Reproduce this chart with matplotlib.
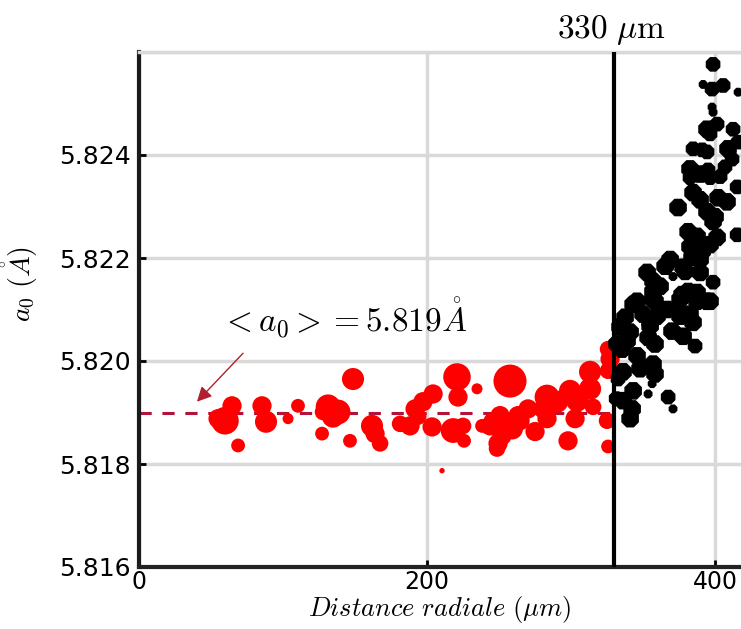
import matplotlib
matplotlib.use('Agg')
import matplotlib.pyplot as plt

plt.rcParams['mathtext.fontset'] = 'cm'
plt.rcParams['font.family'] = 'DejaVu Sans'

############################
# DATA                     #
############################
# red points : inside radius (um), lattice parameter (A), marker size
red_x = [64.6, 59.7, 54.9, 68.8, 85.4, 88.2, 110.4, 103.5, 131.3, 134.7,
         127.1, 127.8, 138.2, 148.6, 146.5, 161.8, 163.9, 167.4, 181.3, 188.2,
         191.7, 197.2, 204.2, 193.8, 203.5, 210.4, 220.8, 221.5, 234.7, 218.1,
         225.0, 225.7, 238.2, 257.6, 313.2, 325.7, 325.7, 283.3, 290.3, 299.3,
         304.2, 313.2, 315.3, 270.1, 264.6, 259.0, 250.7, 243.8, 249.3, 275.0,
         283.3, 302.8, 297.9, 325.0, 325.7, 245.8, 252.1, 263.2, 280.6, 327.1,
         248.6]
red_y = [5.81913, 5.81884, 5.81888, 5.81836, 5.81913, 5.81882, 5.81913, 5.81888, 5.81911, 5.81892,
         5.81859, 5.81901, 5.81901, 5.81965, 5.81845, 5.81874, 5.81859, 5.81840, 5.81878, 5.81874,
         5.81907, 5.81921, 5.81936, 5.81892, 5.81872, 5.81787, 5.81969, 5.81930, 5.81946, 5.81865,
         5.81874, 5.81845, 5.81874, 5.81961, 5.81979, 5.82023, 5.81981, 5.81930, 5.81921, 5.81942,
         5.81923, 5.81946, 5.81911, 5.81907, 5.81884, 5.81869, 5.81894, 5.81874, 5.81840, 5.81863,
         5.81888, 5.81888, 5.81845, 5.81884, 5.81834, 5.81882, 5.81855, 5.81894, 5.81907, 5.82004,
         5.81830]
red_size = [101, 207, 101, 52, 101, 133, 52, 33, 168, 133,
            52, 75, 168, 133, 52, 133, 101, 75, 75, 101,
            101, 101, 101, 75, 101, 8, 207, 101, 33, 168,
            75, 52, 52, 298, 133, 75, 75, 168, 133, 133,
            133, 133, 75, 101, 101, 133, 101, 101, 101, 101,
            101, 101, 101, 75, 52, 101, 101, 101, 101, 101,
            75]

# black points : outside radius
black_x = [398.6, 391.7, 397.9, 405.6, 416.0, 397.9, 398.6, 394.4, 401.4, 396.5,
           412.5, 416.0, 384.7, 391.0, 394.4, 409.0, 411.8, 406.9, 382.6, 389.6,
           395.1, 403.5, 382.6, 396.5, 415.3, 384.7, 389.6, 402.1, 408.3, 374.3,
           394.4, 400.0, 398.6, 415.3, 381.3, 387.5, 401.4, 396.5, 382.6, 391.0,
           389.6, 384.0, 368.8, 365.3, 377.8, 352.8, 356.9, 370.8, 379.2, 389.6,
           398.6, 381.3, 387.5, 377.1, 356.9, 345.8, 356.9, 394.4, 343.1, 358.3,
           366.7, 375.7, 387.5, 396.5, 337.5, 350.0, 359.7, 375.7, 382.6, 334.0,
           354.9, 370.1, 377.8, 386.1, 338.9, 353.5, 358.3, 335.4, 345.8, 356.9,
           347.9, 336.1, 358.3, 343.1, 356.3, 353.5, 367.4, 370.8, 336.1, 342.4,
           341.0, 331.9, 332.6, 331.3, 361.8, 341.0, 354.9, 375.7, 384.7]
black_y = [5.82576, 5.82537, 5.82528, 5.82535, 5.82522, 5.82493, 5.82483, 5.82450, 5.82460, 5.82441,
           5.82450, 5.82425, 5.82412, 5.82410, 5.82406, 5.82412, 5.82392, 5.82377, 5.82373, 5.82363,
           5.82371, 5.82358, 5.82356, 5.82356, 5.82338, 5.82327, 5.82313, 5.82317, 5.82309, 5.82298,
           5.82290, 5.82280, 5.82271, 5.82245, 5.82251, 5.82242, 5.82240, 5.82226, 5.82222, 5.82213,
           5.82197, 5.82201, 5.82197, 5.82184, 5.82182, 5.82172, 5.82155, 5.82164, 5.82174, 5.82172,
           5.82153, 5.82135, 5.82133, 5.82129, 5.82135, 5.82116, 5.82120, 5.82116, 5.82110, 5.82116,
           5.82100, 5.82120, 5.82116, 5.82116, 5.82085, 5.82091, 5.82087, 5.82087, 5.82091, 5.82066,
           5.82068, 5.82058, 5.82048, 5.82029, 5.82039, 5.82046, 5.82033, 5.82023, 5.82010, 5.81994,
           5.81985, 5.81979, 5.81975, 5.81942, 5.81956, 5.81936, 5.81930, 5.81907, 5.81923, 5.81907,
           5.81888, 5.82033, 5.81965, 5.81927, 5.82145, 5.82056, 5.82075, 5.82095, 5.82075]
black_size = [52, 19, 52, 52, 19, 19, 19, 75, 52, 52,
              52, 52, 52, 52, 52, 75, 52, 52, 75, 75,
              52, 52, 52, 52, 52, 75, 75, 75, 75, 75,
              75, 75, 75, 52, 75, 75, 75, 75, 75, 75,
              75, 75, 75, 75, 75, 75, 75, 19, 75, 75,
              52, 75, 75, 75, 75, 75, 75, 75, 75, 75,
              75, 75, 75, 75, 75, 75, 75, 75, 75, 75,
              75, 75, 75, 52, 75, 75, 75, 75, 75, 75,
              75, 75, 75, 75, 19, 19, 52, 19, 75, 75,
              75, 75, 52, 52, 75, 75, 75, 75, 75]

a0_mean = 5.819
r_limit = 330

x_ticks = [0, 200, 400]
y_ticks = [5.816, 5.818, 5.820, 5.822, 5.824, 5.826]
y_ticklabels = ['5.816', '5.818', '5.820', '5.822', '5.824', '']

############################
# PLOT                     #
############################
fig = plt.figure(figsize=(7.41, 6.29), dpi=100)
ax = fig.add_axes([139 / 741, 62 / 629, 602 / 741, 515 / 629])

ax.set_axisbelow(True)
ax.grid(True, color='#d9d9d9', lw=2.5)

ax.plot([0, r_limit], [a0_mean, a0_mean], ls=(0, (4, 3.5)), color='#b3123a', lw=2.2, zorder=2)
ax.scatter(red_x, red_y, s=[v * 1.9 for v in red_size], c='#ff0000', edgecolors='none', zorder=3)
ax.scatter(black_x, black_y, s=[v * 2.5 for v in black_size], c='k', marker='8',
           edgecolors='none', zorder=3)
ax.axvline(r_limit, color='k', lw=3, zorder=4)

ax.text(r_limit - 2, 5.8261, r'$330\ \mu\mathrm{m}$', ha='center', va='bottom', fontsize=24)
ax.text(57, 5.82085, r'$<a_0> = 5.819\mathring{A}$', ha='left', va='center', fontsize=24)
ax.annotate('', xy=(38.9, 5.81917), xytext=(73.6, 5.82019),
            arrowprops=dict(arrowstyle='-|>', color='#b02030', lw=1, mutation_scale=22))

ax.set_xlim(0, 418)
ax.set_ylim(5.816, 5.826)
ax.set_xticks(x_ticks)
ax.set_yticks(y_ticks)
ax.set_yticklabels(y_ticklabels)
ax.tick_params(direction='in', length=5, width=2)
ax.tick_params(axis='y', pad=6, labelsize=18)
ax.tick_params(axis='x', pad=2, labelsize=17)

ax.set_xlabel(r'$Distance\ radiale\ (\mu m)$', fontsize=19, labelpad=0)
ax.set_ylabel(r'$a_0\ (\mathring{A})$', fontsize=20)
ax.yaxis.set_label_coords(-0.165, 0.55)

ax.spines['left'].set_linewidth(3)
ax.spines['left'].set_color('#1a1a1a')
ax.spines['bottom'].set_linewidth(3)
ax.spines['bottom'].set_color('#222222')
ax.spines['top'].set_color('#d9d9d9')
ax.spines['top'].set_linewidth(2.5)
ax.spines['right'].set_visible(False)

fig.savefig('out.png', dpi=100)
